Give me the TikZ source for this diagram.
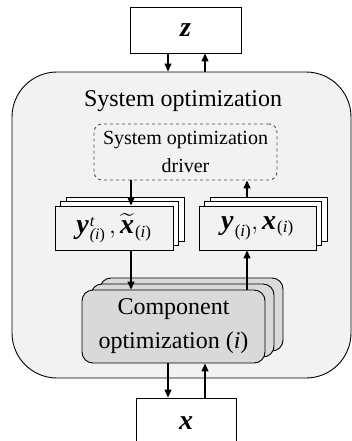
\documentclass[tikz,border=0pt]{standalone}
\usepackage{amsmath}
\usepackage{fontspec}
\setmainfont{Liberation Serif}
\usetikzlibrary{arrows.meta}
\definecolor{panel}{HTML}{F2F2F2}
\definecolor{comp}{HTML}{D9D9D9}
\newcommand{\bv}[1]{\text{\fontsize{28}{30}\selectfont\bfseries\itshape #1\/}}
\newcommand{\sub}{\text{\fontsize{17}{20}\selectfont\kern1pt(\itshape i\/\upshape)}}
% bold y with superscript t and subscript (i), set by hand for clear separation
\newcommand{\ytsub}{\text{\fontsize{28}{30}\selectfont\bfseries\itshape y\/%
  \fontsize{16}{18}\selectfont\mdseries\kern1pt%
  \rlap{\raisebox{7pt}{\itshape t}}\raisebox{-6pt}{(\itshape i\/\upshape)}}}
\tikzset{
  arr/.style={line width=1.3pt,-{Triangle[length=8pt,width=7pt]}},
  plainbox/.style={draw,line width=0.9pt,fill=white,inner sep=0pt},
  stackbox/.style={draw,line width=0.9pt,fill=panel,inner sep=0pt,
    minimum height=44pt,font=\fontsize{24}{30}\selectfont},
  compbox/.style={draw,line width=0.9pt,fill=comp,rounded corners=11pt,
    minimum width=183pt,minimum height=73pt,inner sep=0pt,align=center,
    font=\fontsize{24}{34}\selectfont},
}
\begin{document}
\begin{tikzpicture}[x=1pt,y=-1pt]
\useasboundingbox (0,0) rectangle (352,441);
% top and bottom variable blocks
\node[plainbox,minimum width=111pt,minimum height=46pt,font=\fontsize{24}{30}\selectfont]
  (z) at (185.5,30) {$\bv{z}$};
\node[plainbox,minimum width=100pt,minimum height=50pt,font=\fontsize{24}{30}\selectfont]
  (x) at (186,423) {$\bv{x}$};
% system optimization panel
\node[draw,line width=0.9pt,fill=panel,rounded corners=45pt,
  minimum width=339pt,minimum height=306pt,inner sep=0pt]
  (sys) at (181.5,225) {};
\node[font=\fontsize{24}{30}\selectfont] (title) at (183,101) {System optimization};
% driver
\node[draw=black!70,dashed,line width=0.9pt,rounded corners=8pt,
  minimum width=183pt,minimum height=56pt,inner sep=0pt,align=center,
  font=\fontsize{20}{28}\selectfont]
  (drv) at (185.5,152) {System optimization\\driver};
% left stack of targets
\node[stackbox,fill=white,minimum width=118pt] (l3) at (125,219) {};
\node[stackbox,fill=white,minimum width=118pt] (l2) at (119.5,223.5) {};
\node[stackbox,minimum width=118pt] (l1) at (114,228)
  {$\ytsub\,,\widetilde{\bv{x}}_{\sub}$};
% right stack of responses
\node[stackbox,fill=white,minimum width=117pt] (r3) at (268.5,219) {};
\node[stackbox,fill=white,minimum width=117pt] (r2) at (263,223.5) {};
\node[stackbox,minimum width=117pt] (r1) at (257.5,228)
  {$\bv{y}_{\sub},\bv{x}_{\sub}$};
% component optimization stack
\node[compbox] (c3) at (191.5,314.5) {};
\node[compbox] (c2) at (182.5,320.5) {};
\node[compbox] (c1) at (173.5,326.5) {Component\\optimization (\textit{i})};
% connectors
\draw[arr] ([xshift=-17.5pt]z.south) -- ([xshift=-17.5pt]z.south |- sys.north);
\draw[arr] ([xshift=19.5pt]z.south |- sys.north) -- ([xshift=19.5pt]z.south);
\draw[arr] ([xshift=17pt]l1.north |- drv.south) -- ([xshift=17pt]l1.north);
\draw[arr] ([xshift=-10.5pt]r1.north |- r3.north) -- ([xshift=-10.5pt]r1.north |- drv.south);
\draw[arr] ([xshift=17pt]l1.south) -- ([xshift=17pt]l1.south |- c1.north);
\draw[arr] ([xshift=-10.5pt]r1.south |- c1.north) -- ([xshift=-10.5pt]r1.south);
\draw[arr] ([xshift=-18pt]x.north |- c1.south) -- ([xshift=-18pt]x.north);
\draw[arr] ([xshift=19pt]x.north) -- ([xshift=19pt]x.north |- c1.south);
\end{tikzpicture}
\end{document}
